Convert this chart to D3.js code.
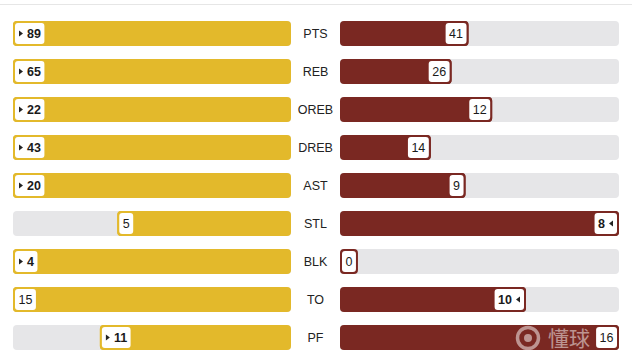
<!DOCTYPE html>
<html>
<head>
<meta charset="utf-8">
<script src="https://cdn.jsdelivr.net/npm/d3@7"></script>
<style>
html,body{margin:0;padding:0;background:#fff;}
svg{display:block;font-family:"Liberation Sans",Arial,Helvetica,sans-serif;}
</style>
</head>
<body>
<div id="chart"></div>
<script>
const categories = ["PTS","REB","OREB","DREB","AST","STL","BLK","TO","PF"];
const homeValues = [89,65,22,43,20,5,4,15,11];
const awayValues = [41,26,12,14,9,8,0,10,16];
// stats where the lower value wins
const lowerIsBetter = ["TO","PF"];

const W = 632, H = 359;
const homeColor = "#E3B92B", awayColor = "#7A2822", trackColor = "#E6E6E8";

const svg = d3.select("#chart").append("svg").attr("width", W).attr("height", H);

svg.append("line").attr("x1",0).attr("x2",W).attr("y1",4.5).attr("y2",4.5)
  .attr("stroke","#e6e6e6").attr("stroke-width",1);

const y = d3.scaleBand().domain(categories).range([21, 350]).paddingInner(13/38).paddingOuter(0);
const bh = y.bandwidth();
const leftX0 = 291, leftX1 = 13, rightX0 = 340, rightX1 = 619;

const rows = categories.map((c,i)=>{
  const h = homeValues[i], a = awayValues[i];
  const low = lowerIsBetter.includes(c);
  let homeWin = low ? h < a : h > a;
  let awayWin = low ? a < h : a > h;
  const max = Math.max(h,a) || 1;
  return {c, h, a, homeWin, awayWin,
    ls: d3.scaleLinear().domain([0,max]).range([leftX0,leftX1]),
    rs: d3.scaleLinear().domain([0,max]).range([rightX0,rightX1])};
});

const g = svg.append("g");

// tracks
g.selectAll(".lt").data(rows).join("rect")
  .attr("x",leftX1).attr("y",d=>y(d.c)).attr("width",leftX0-leftX1).attr("height",bh)
  .attr("rx",4).attr("fill",trackColor);
g.selectAll(".rt").data(rows).join("rect")
  .attr("x",rightX0).attr("y",d=>y(d.c)).attr("width",rightX1-rightX0).attr("height",bh)
  .attr("rx",4).attr("fill",trackColor);

// bars
g.selectAll(".lb").data(rows).join("rect")
  .attr("x",d=>d.ls(d.h)).attr("y",d=>y(d.c)).attr("width",d=>leftX0-d.ls(d.h)).attr("height",bh)
  .attr("rx",4).attr("fill",homeColor);
g.selectAll(".rb").data(rows).join("rect")
  .attr("x",rightX0).attr("y",d=>y(d.c)).attr("width",d=>d.rs(d.a)-rightX0).attr("height",bh)
  .attr("rx",4).attr("fill",awayColor);

// category labels
g.selectAll(".cat").data(rows).join("text")
  .attr("x",(leftX0+rightX0)/2).attr("y",d=>y(d.c)+bh/2).attr("dy","0.36em")
  .attr("text-anchor","middle").attr("font-size",12.5).attr("fill","#222")
  .text(d=>d.c);

// watermark
const wm = svg.append("g").attr("opacity",0.5);
wm.append("circle").attr("cx",528).attr("cy",338).attr("r",10.5).attr("fill","none")
  .attr("stroke","#fff").attr("stroke-width",3.5);
wm.append("circle").attr("cx",528).attr("cy",338).attr("r",4).attr("fill","#fff");
wm.append("text").attr("x",548).attr("y",338).attr("dy","0.36em").attr("font-size",21)
  .attr("font-family","'Noto Sans CJK SC',sans-serif").attr("fill","#fff").text("懂球");

// value boxes
function box(parent, value, win, side, d){
  const gg = parent.append("g");
  const t = gg.append("text").attr("font-size",12.5).attr("font-weight",win?700:400)
    .attr("fill","#1a1a1a").attr("dy","0.36em").text(value);
  const tw = t.node().getComputedTextLength();
  const arrowW = win ? 8.5 : 0;
  const pad = 5.5;
  const bw = tw + arrowW + pad*2;
  const cy = y(d.c)+bh/2;
  const color = side==="L"?homeColor:awayColor;
  let x0;
  if(side==="L"){ x0 = d.ls(value); }
  else { x0 = d.rs(value) - bw; if (x0 < rightX0) x0 = rightX0; }
  gg.insert("rect","text").attr("x",x0).attr("y",y(d.c)).attr("width",bw).attr("height",bh)
    .attr("rx",4).attr("fill",color);
  gg.insert("rect","text").attr("x",x0+2).attr("y",y(d.c)+2).attr("width",bw-4).attr("height",bh-4)
    .attr("rx",3).attr("fill","#fff");
  if(side==="L"){
    if(win){
      const ax = x0+6;
      gg.append("path").attr("d",`M${ax},${cy-3}L${ax+4},${cy}L${ax},${cy+3}Z`).attr("fill","#222");
    }
    t.attr("x", x0+pad+arrowW).attr("y",cy);
  } else {
    t.attr("x", x0+pad).attr("y",cy);
    if(win){
      const ax = x0+bw-6;
      gg.append("path").attr("d",`M${ax},${cy-3}L${ax-4},${cy}L${ax},${cy+3}Z`).attr("fill","#222");
    }
  }
}
const boxes = svg.append("g");
rows.forEach(d=>{
  box(boxes, d.h, d.homeWin, "L", d);
  box(boxes, d.a, d.awayWin, "R", d);
});
</script>
</body>
</html>
